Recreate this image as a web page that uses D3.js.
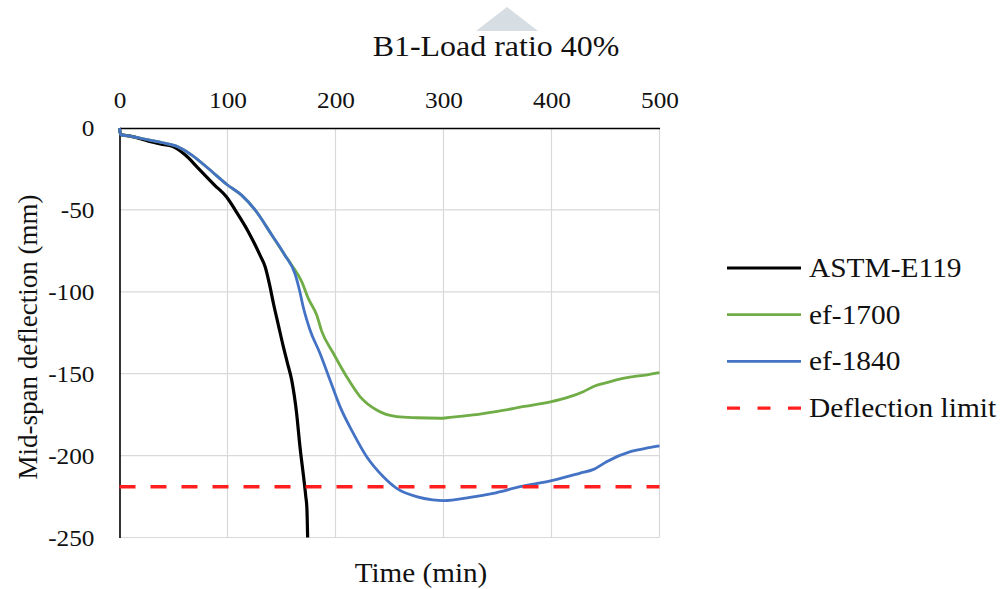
<!DOCTYPE html>
<html>
<head>
<meta charset="utf-8">
<script src="https://cdn.jsdelivr.net/npm/d3@7"></script>
<style>
  html, body { margin: 0; padding: 0; background: #fff; }
  svg { display: block; }
</style>
</head>
<body>
<svg id="chart" width="1002" height="589"></svg>
<script>
// Mid-span deflection of beam B1 under fire exposure, load ratio 40%
const chartTitle = "B1-Load ratio 40%";
const xTitle = "Time (min)";
const yTitle = "Mid-span deflection (mm)";

const xTicks = [0, 100, 200, 300, 400, 500];
const yTicks = [0, -50, -100, -150, -200, -250];

const seriesNames = ["ASTM-E119", "ef-1700", "ef-1840", "Deflection limit"];
const seriesColors = ["#000000", "#70ad47", "#4472c4", "#ff1f1f"];

// time (min) and deflection (mm) samples per curve
const astmTime = [0, 1, 10, 27, 40, 50, 61, 73, 88, 99, 108, 119, 130, 135, 139.4, 142.5, 147, 151.7, 155.5, 159.4, 164, 167.1, 170.8, 172.5, 173.5, 174.2];
const astmDefl = [0, -4, -5, -8, -10, -11.5, -16.5, -24.6, -34.8, -42, -51, -63, -77.5, -85, -97, -107, -120, -133.5, -143.5, -153.8, -174.2, -194.6, -214.9, -225, -232, -250];

const ef1700Time = [0, 1, 10, 27, 40, 54, 67, 82, 100, 113, 125.5, 141, 153, 159.4, 168.7, 174.8, 182.6, 187.2, 198, 210.3, 222.7, 238.1, 256.7, 275, 296.8, 306, 327.6, 350, 375, 400, 415, 429.4, 440, 451, 465, 475.7, 490, 500];
const ef1700Defl = [0, -4, -5, -7.3, -9, -11.4, -16.5, -24.6, -34.8, -41, -50, -65.3, -77.5, -83.6, -93.8, -104, -114.2, -124, -137.5, -151.8, -164, -172.2, -176.2, -176.9, -177.2, -176.7, -175.2, -173, -170, -167.1, -164.5, -161, -157.5, -155.5, -153, -151.8, -150.5, -149.4];

const ef1840Time = [0, 1, 10, 27, 40, 54, 67, 82, 100, 113, 125.5, 141, 153, 162.5, 167, 170, 176.4, 185.6, 194.9, 204.2, 216.5, 228.9, 244.3, 256.7, 275, 290, 300, 324.5, 346, 371, 400, 426, 439, 451, 473, 490, 500];
const ef1840Defl = [0, -4, -5, -7.3, -9, -11.4, -16.5, -24.6, -34.8, -41, -50, -65.3, -77.5, -89, -100, -109, -123.3, -137.5, -153.8, -170.1, -186.4, -200.7, -212.9, -220, -225, -227, -227.5, -225.5, -223, -219, -215.3, -210.8, -208.4, -203.7, -197.6, -195.2, -194.1];

const limitTime = [0, 500];
const limitDefl = [-219, -219];

const FONT = "'Liberation Serif', 'Tinos'";
const TEXT_COLOR = "#111111";
const svg = d3.select("#chart");

const x = d3.scaleLinear().domain([0, 500]).range([119.5, 659.5]);
const y = d3.scaleLinear().domain([-250, 0]).range([537.5, 128]);

// serif label, slightly widened horizontally
function label(px, py, str, size, stretch, anchor) {
  return svg.append("text")
    .attr("transform", `translate(${px},${py}) scale(${stretch},1)`)
    .attr("text-anchor", anchor)
    .style("font-family", FONT).style("font-size", size + "px")
    .style("fill", TEXT_COLOR)
    .text(str);
}

// small grey marker above the title
svg.append("path")
  .attr("d", d3.line()([[476, 31], [507, 7], [538, 31]]) + "Z")
  .attr("fill", "#d6dee3");

// gridlines
const grid = svg.append("g").attr("stroke", "#d9d9d9").attr("stroke-width", 1.2);
grid.selectAll(".gx").data(xTicks.filter(d => d > 0)).join("line")
  .attr("x1", d => x(d)).attr("x2", d => x(d))
  .attr("y1", y(0)).attr("y2", y(-250));
grid.selectAll(".gy").data(yTicks.filter(d => d < 0)).join("line")
  .attr("x1", x(0)).attr("x2", x(500))
  .attr("y1", d => y(d)).attr("y2", d => y(d));

// axes: time along the top, deflection on the left (plain hyphen minus)
const fmt = d => String(d);
const tickStretch = 1.1;
const xPad = 20.5, yPad = 25;
const xAxis = svg.append("g")
  .attr("transform", `translate(0,${y(0)})`)
  .call(d3.axisTop(x).tickValues(xTicks).tickSize(0).tickPadding(xPad).tickFormat(fmt));
const yAxis = svg.append("g")
  .attr("transform", `translate(${x(0)},0)`)
  .call(d3.axisLeft(y).tickValues(yTicks).tickSize(0).tickPadding(yPad).tickFormat(fmt));

[xAxis, yAxis].forEach(g => {
  g.attr("font-family", null);
  g.select(".domain").attr("stroke", "#000").attr("stroke-width", 1.6);
  g.selectAll("text")
    .style("font-family", FONT).style("font-size", "23px").style("fill", TEXT_COLOR)
    .attr("transform", `scale(${tickStretch},1)`);
});
yAxis.selectAll("text").attr("x", -yPad / tickStretch).attr("dy", "0.33em");

// curves
const line = d3.line().x(d => x(d[0])).y(d => y(d[1])).curve(d3.curveMonotoneX);
const curves = [
  { t: astmTime, v: astmDefl, w: 3.2, dash: null },
  { t: ef1700Time, v: ef1700Defl, w: 2.8, dash: null },
  { t: ef1840Time, v: ef1840Defl, w: 2.8, dash: null },
  { t: limitTime, v: limitDefl, w: 3.4, dash: "16,15" }
];
const plot = svg.append("g");
curves.forEach((c, i) => {
  plot.append("path")
    .datum(d3.zip(c.t, c.v))
    .attr("d", line)
    .attr("fill", "none")
    .attr("stroke", seriesColors[i])
    .attr("stroke-width", c.w)
    .attr("stroke-linejoin", "round")
    .attr("stroke-dasharray", c.dash);
});

// titles
label(496, 56, chartTitle, 30, 1.065, "middle");
label(421, 582, xTitle, 27, 1.08, "middle");
svg.append("text")
  .attr("transform", "translate(37,337) rotate(-90)")
  .attr("text-anchor", "middle")
  .style("font-family", FONT).style("font-size", "27px").style("fill", TEXT_COLOR)
  .text(yTitle);

// legend
seriesNames.forEach((name, i) => {
  const ly = 268 + i * 46.7;
  svg.append("line")
    .attr("x1", 727).attr("x2", 801).attr("y1", ly).attr("y2", ly)
    .attr("stroke", seriesColors[i])
    .attr("stroke-width", i === 3 ? 3.4 : 2.8)
    .attr("stroke-dasharray", i === 3 ? "13,17.5" : null);
  label(809, ly + 9, name, 27, 1.09, "start");
});
</script>
</body>
</html>
